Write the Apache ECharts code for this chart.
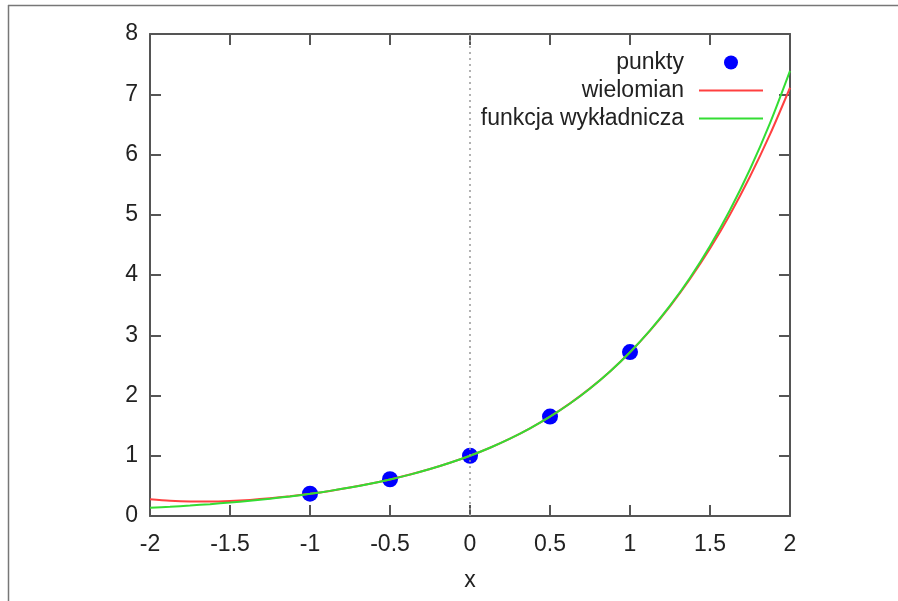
<!DOCTYPE html>
<html>
<head>
<meta charset="utf-8">
<script src="https://cdn.jsdelivr.net/npm/echarts@6/dist/echarts.min.js"></script>
<style>
  html, body { margin: 0; padding: 0; background: #fff; }
  #chart { width: 898px; height: 601px; }
</style>
</head>
<body>
<div id="chart"></div>
<script>
// Interpolation nodes (measured points)
const pointX = [-1, -0.5, 0, 0.5, 1];
const pointY = [0.37, 0.61, 1.0, 1.65, 2.72];

// Sample positions along x for both curves
const curveX = [
  -2, -1.875, -1.75, -1.625, -1.5, -1.375, -1.25, -1.125,
  -1, -0.875, -0.75, -0.625, -0.5, -0.375, -0.25, -0.125,
  0, 0.125, 0.25, 0.375, 0.5, 0.625, 0.75, 0.875,
  1, 1.125, 1.25, 1.375, 1.5, 1.625, 1.75, 1.875, 2
];
// Polynomial curve values
const polyY = [
  0.279, 0.253, 0.241, 0.240, 0.249, 0.267, 0.293, 0.327,
  0.368, 0.416, 0.472, 0.535, 0.607, 0.688, 0.779, 0.883,
  1.000, 1.133, 1.284, 1.455, 1.649, 1.869, 2.118, 2.400,
  2.718, 3.077, 3.480, 3.933, 4.439, 5.005, 5.634, 6.333, 7.108
];
// Exponential curve values
const expY = [
  0.135, 0.153, 0.174, 0.197, 0.223, 0.253, 0.287, 0.325,
  0.368, 0.417, 0.472, 0.535, 0.607, 0.687, 0.779, 0.883,
  1.000, 1.133, 1.284, 1.455, 1.649, 1.868, 2.117, 2.399,
  2.718, 3.080, 3.490, 3.955, 4.482, 5.078, 5.755, 6.521, 7.389
];

// Axis tick settings
const xTicks = { min: -2, max: 2, step: 0.5 };
const yTicks = { min: 0, max: 8, step: 1 };

const pairs = (xs, ys) => xs.map((x, i) => [x, ys[i]]);

const FONT = 'Liberation Sans, Arial, sans-serif';
const FS = 23;
const TEXT = '#222';
const AXIS = '#555';
const RED = '#ff4040';
const GREEN = '#33dd33';
const LINE_ICON = 'path://M0,0 L64,0 L64,2 L0,2 Z';

const chart = echarts.init(document.getElementById('chart'), null, { renderer: 'canvas' });

const axisLineStyle = { show: true, onZero: false, lineStyle: { color: AXIS, width: 2 } };
const tickStyle = { show: true, inside: true, length: 11, lineStyle: { color: AXIS, width: 2 } };

chart.setOption({
  animation: false,
  backgroundColor: '#fff',
  graphic: [
    { type: 'line', shape: { x1: 8, y1: 5.5, x2: 898, y2: 5.5 }, style: { stroke: '#777', lineWidth: 1.5 }, silent: true },
    { type: 'line', shape: { x1: 8.5, y1: 5, x2: 8.5, y2: 601 }, style: { stroke: '#777', lineWidth: 1.5 }, silent: true }
  ],
  grid: { left: 150, top: 34, right: 108, bottom: 85, containLabel: false },
  legend: {
    orient: 'vertical',
    align: 'right',
    right: 130,
    top: 46,
    itemWidth: 64,
    itemHeight: 14,
    itemGap: 5,
    textStyle: { fontFamily: FONT, fontSize: FS, color: TEXT, lineHeight: 23, padding: [0, 10, 0, 0] },
    data: [
      { name: 'punkty', icon: 'circle' },
      { name: 'wielomian', icon: LINE_ICON },
      { name: 'funkcja wykładnicza', icon: LINE_ICON }
    ]
  },
  xAxis: [
    {
      type: 'value', position: 'bottom',
      min: xTicks.min, max: xTicks.max, interval: xTicks.step,
      axisLine: axisLineStyle, axisTick: tickStyle, splitLine: { show: false },
      axisLabel: { fontFamily: FONT, fontSize: FS, color: TEXT, margin: 17 },
      name: 'x', nameLocation: 'middle', nameGap: 53,
      nameTextStyle: { fontFamily: FONT, fontSize: FS, color: TEXT }
    },
    {
      type: 'value', position: 'top',
      min: xTicks.min, max: xTicks.max, interval: xTicks.step,
      axisLine: axisLineStyle, axisTick: tickStyle, splitLine: { show: false },
      axisLabel: { show: false }
    }
  ],
  yAxis: [
    {
      type: 'value', position: 'left',
      min: yTicks.min, max: yTicks.max, interval: yTicks.step,
      axisLine: axisLineStyle, axisTick: tickStyle, splitLine: { show: false },
      axisLabel: { fontFamily: FONT, fontSize: FS, color: TEXT, margin: 12 }
    },
    {
      type: 'value', position: 'right',
      min: yTicks.min, max: yTicks.max, interval: yTicks.step,
      axisLine: axisLineStyle, axisTick: tickStyle, splitLine: { show: false },
      axisLabel: { show: false }
    }
  ],
  series: [
    {
      name: 'punkty',
      type: 'scatter',
      xAxisIndex: 0, yAxisIndex: 0,
      symbol: 'circle',
      symbolSize: 16,
      itemStyle: { color: '#0000ff', opacity: 1 },
      z: 2,
      data: pairs(pointX, pointY),
      markLine: {
        silent: true,
        symbol: 'none',
        label: { show: false },
        lineStyle: { color: '#999', type: [2, 4], width: 1.5 },
        data: [{ xAxis: 0 }]
      }
    },
    {
      name: 'wielomian',
      type: 'line',
      xAxisIndex: 0, yAxisIndex: 0,
      smooth: 0.3,
      symbol: 'none',
      lineStyle: { color: RED, width: 2 },
      itemStyle: { color: RED },
      z: 3,
      data: pairs(curveX, polyY)
    },
    {
      name: 'funkcja wykładnicza',
      type: 'line',
      xAxisIndex: 0, yAxisIndex: 0,
      smooth: 0.3,
      symbol: 'none',
      lineStyle: { color: GREEN, width: 2 },
      itemStyle: { color: GREEN },
      z: 4,
      data: pairs(curveX, expY)
    }
  ]
});
</script>
</body>
</html>
